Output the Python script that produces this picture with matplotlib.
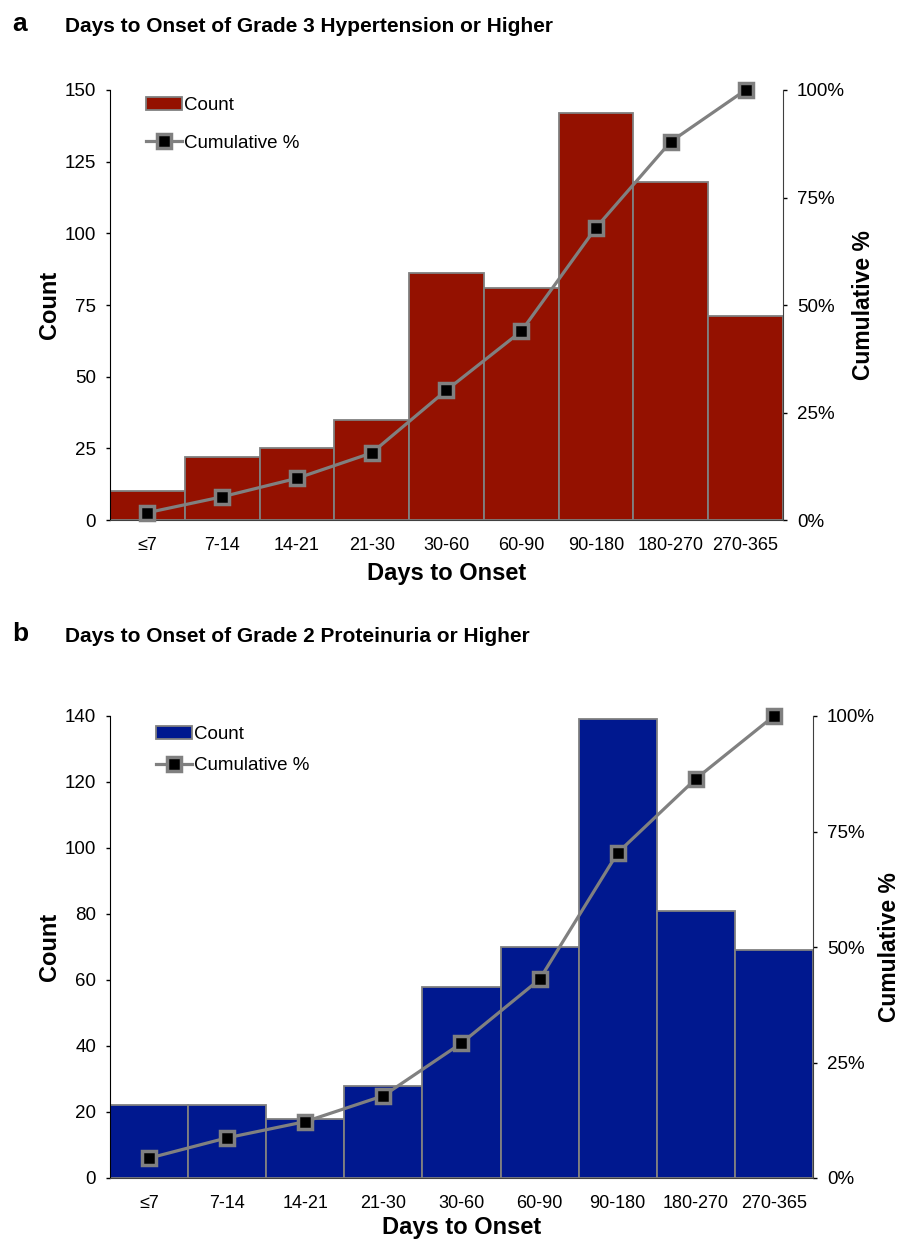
import matplotlib
matplotlib.use("Agg")
import matplotlib.pyplot as plt
from matplotlib.ticker import FuncFormatter

plt.rcParams['font.family'] = ['Liberation Sans', 'DejaVu Sans']

categorias = ['≤7', '7-14', '14-21', '21-30', '30-60', '60-90', '90-180', '180-270', '270-365']

# panel a: hipertension grado 3
conteo_a = [10, 22, 25, 35, 86, 81, 142, 118, 71]
acumulado_a = [1.7, 5.4, 9.7, 15.6, 30.2, 43.9, 68.0, 88.0, 100.0]

# panel b: proteinuria grado 2
conteo_b = [22, 22, 18, 28, 58, 70, 139, 81, 69]
acumulado_b = [4.3, 8.7, 12.2, 17.8, 29.2, 43.0, 70.4, 86.4, 100.0]

ROJO = '#941100'
AZUL = '#00188f'
GRIS = '#808080'

W, H = 903, 1240
fig = plt.figure(figsize=(W / 100, H / 100), dpi=100)


def panel(caja, conteo, acumulado, color, ymax, paso, leg_pos, labelspacing, pad_xlabel, pad_cum):
	x0, y0, x1, y1 = caja
	ax = fig.add_axes([x0 / W, 1 - y1 / H, (x1 - x0) / W, (y1 - y0) / H])
	pos = list(range(len(categorias)))
	ax.bar(pos, conteo, width=1.0, color=color, edgecolor=GRIS, linewidth=1.3, label='Count')
	ax.set_xlim(-0.5, len(categorias) - 0.5)
	ax.set_ylim(0, ymax)
	ax.set_yticks(range(0, ymax + 1, paso))
	ax.set_xticks(pos)
	ax.set_xticklabels(categorias)
	ax.tick_params(axis='x', length=0, pad=12, labelsize=13)
	ax.tick_params(axis='y', length=3, width=1, labelsize=13.5, pad=7)
	ax.spines['top'].set_visible(False)
	ax.spines['right'].set_visible(False)
	ax.spines['bottom'].set_color('#404040')
	ax.set_xlabel('Days to Onset', fontsize=17, fontweight='bold', labelpad=pad_xlabel)
	ax.set_ylabel('Count', fontsize=17, fontweight='bold', labelpad=3)

	ax2 = ax.twinx()
	ax2.plot(pos, acumulado, color=GRIS, linewidth=2.3, marker='s', markersize=10,
		markerfacecolor='black', markeredgecolor=GRIS, markeredgewidth=2.5,
		label='Cumulative %', clip_on=False, zorder=5)
	ax2.set_ylim(0, 100)
	ax2.set_yticks([0, 25, 50, 75, 100])
	ax2.yaxis.set_major_formatter(FuncFormatter(lambda v, p: '%d%%' % v))
	ax2.tick_params(axis='y', length=3, width=1, labelsize=13.5, pad=7)
	ax2.spines['top'].set_visible(False)
	ax2.spines['left'].set_visible(False)
	ax2.spines['bottom'].set_visible(False)
	ax2.spines['right'].set_color('#404040')
	ax2.set_ylabel('Cumulative %', fontsize=16.5, fontweight='bold', labelpad=pad_cum)

	h1, l1 = ax.get_legend_handles_labels()
	h2, l2 = ax2.get_legend_handles_labels()
	ax2.legend(h1 + h2, l1 + l2, loc='upper left',
		bbox_to_anchor=(leg_pos[0] / W, 1 - leg_pos[1] / H), bbox_transform=fig.transFigure,
		frameon=False, fontsize=13.5, handlelength=1.9, handletextpad=0.15,
		labelspacing=labelspacing, borderaxespad=0, borderpad=0)
	return ax, ax2


panel((110, 90, 783, 520), conteo_a, acumulado_a, ROJO, 150, 25, (146, 97), 1.1, 6, 5)
panel((110, 716, 813, 1178), conteo_b, acumulado_b, AZUL, 140, 20, (156, 726), 0.75, 3, 2)

fig.text(12 / W, 1 - 24 / H, 'a', fontsize=19, fontweight='bold', va='center')
fig.text(65 / W, 1 - 26 / H, 'Days to Onset of Grade 3 Hypertension or Higher',
	fontsize=15, fontweight='bold', va='center')
fig.text(12 / W, 1 - 634 / H, 'b', fontsize=19, fontweight='bold', va='center')
fig.text(65 / W, 1 - 636 / H, 'Days to Onset of Grade 2 Proteinuria or Higher',
	fontsize=15, fontweight='bold', va='center')

fig.savefig('out.png', dpi=100)
